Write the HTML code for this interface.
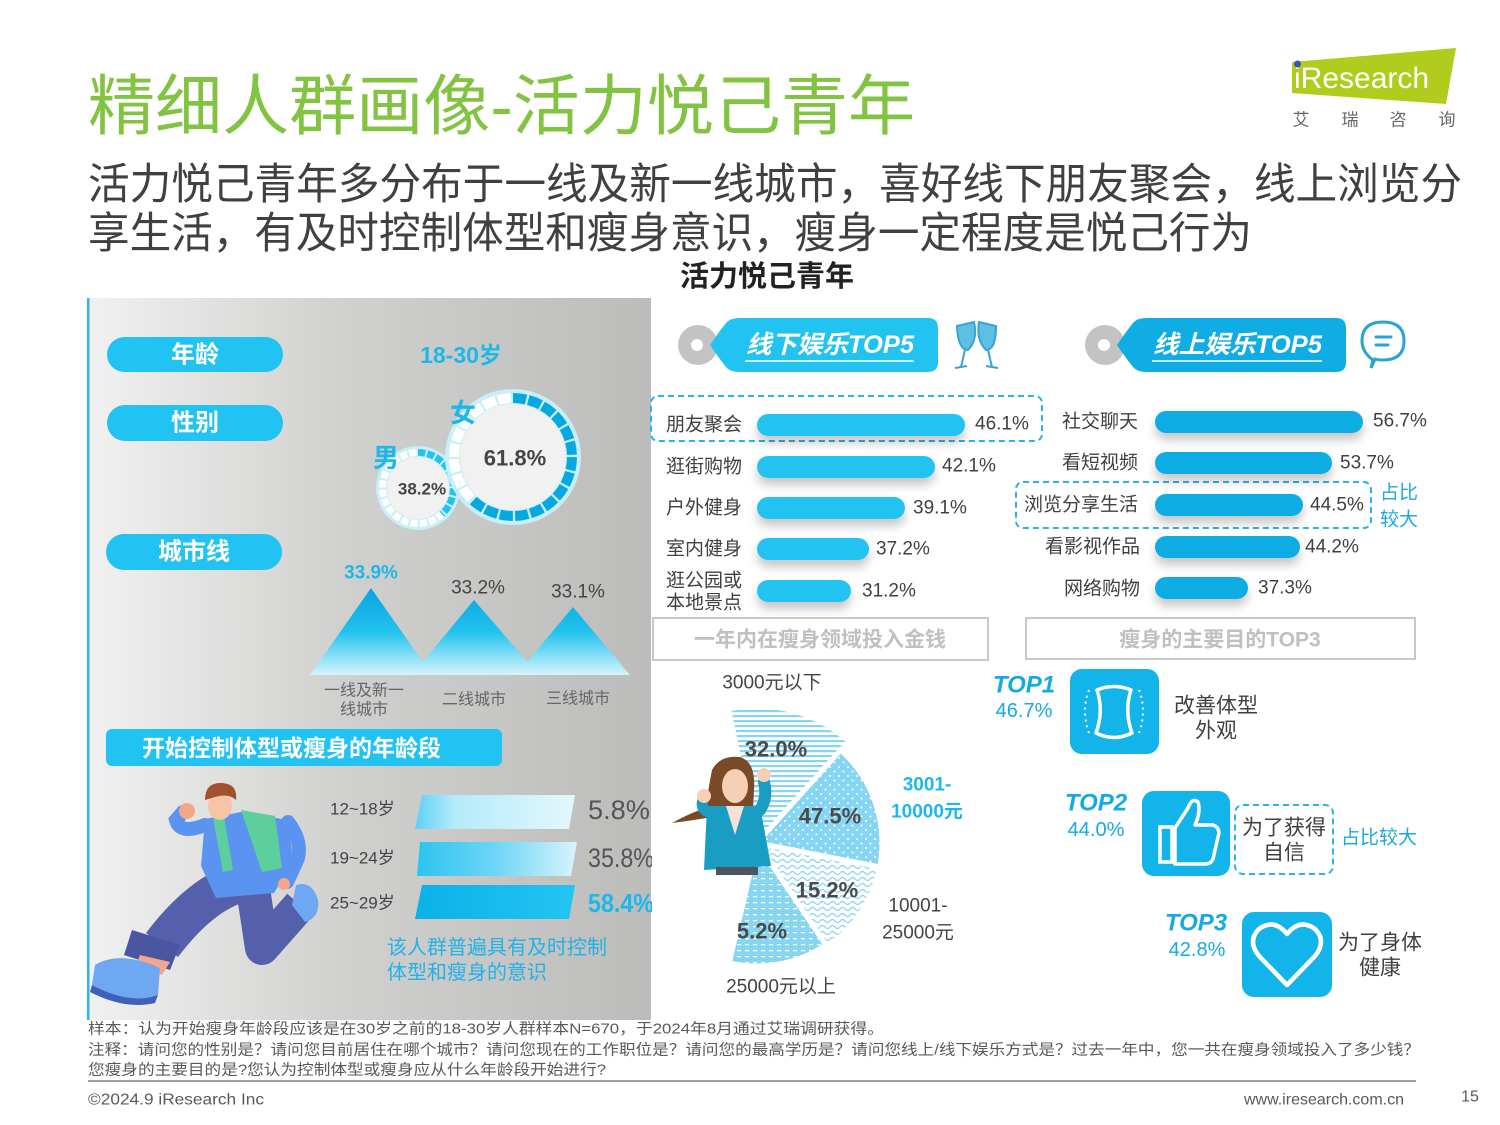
<!DOCTYPE html>
<html><head><meta charset="utf-8">
<style>
html,body{margin:0;padding:0;background:#fff;width:1500px;height:1125px;overflow:hidden;}
svg{display:block;}
text{font-family:"Liberation Sans","Noto Sans CJK SC",sans-serif;}
</style></head><body>
<svg width="1500" height="1125" viewBox="0 0 1500 1125" xmlns="http://www.w3.org/2000/svg">
<defs>
 <linearGradient id="panel" x1="0" x2="1" y1="0" y2="0">
  <stop offset="0" stop-color="#f1f1f1"/><stop offset="0.45" stop-color="#d0d0ce"/><stop offset="1" stop-color="#bcbcba"/>
 </linearGradient>
 <linearGradient id="mtn" gradientUnits="userSpaceOnUse" x1="0" y1="588" x2="0" y2="675">
  <stop offset="0" stop-color="#08a4de"/><stop offset="0.5" stop-color="#22c2ef"/><stop offset="1" stop-color="#d6f3fc"/>
 </linearGradient>
 <linearGradient id="ab1" x1="0" x2="1" y1="0" y2="0">
  <stop offset="0" stop-color="#5fd0f5"/><stop offset="0.25" stop-color="#b4ebfa"/><stop offset="1" stop-color="#e4f7fd"/>
 </linearGradient>
 <linearGradient id="ab2" x1="0" x2="1" y1="0" y2="0">
  <stop offset="0" stop-color="#2cc4f0"/><stop offset="0.5" stop-color="#6fd6f6"/><stop offset="1" stop-color="#d8f4fc"/>
 </linearGradient>
 <linearGradient id="ab3" x1="0" x2="1" y1="0" y2="0">
  <stop offset="0" stop-color="#0bb2e8"/><stop offset="1" stop-color="#23c4f1"/>
 </linearGradient>
 <filter id="sh" x="-10%" y="-50%" width="120%" height="250%">
  <feDropShadow dx="0" dy="7" stdDeviation="5" flood-color="#000" flood-opacity="0.22"/>
 </filter>
 <pattern id="pA" width="6" height="5" patternUnits="userSpaceOnUse">
  <rect width="6" height="5" fill="#ffffff"/><rect y="0" width="6" height="2.2" fill="#86d5f1"/>
 </pattern>
 <pattern id="pB" width="9" height="9" patternUnits="userSpaceOnUse">
  <rect width="9" height="9" fill="#86d5f2"/><circle cx="2" cy="2" r="1" fill="#fff"/><circle cx="6.5" cy="6.5" r="1" fill="#fff"/>
 </pattern>
 <pattern id="pC" width="10" height="6" patternUnits="userSpaceOnUse">
  <rect width="10" height="6" fill="#fff"/><path d="M0,3 Q2.5,0 5,3 T10,3" fill="none" stroke="#86d5f2" stroke-width="1.3"/>
 </pattern>
 <pattern id="pD" width="8" height="6" patternUnits="userSpaceOnUse">
  <rect width="8" height="6" fill="#86d5f2"/><rect x="1" y="2" width="4" height="1.3" fill="#fff"/>
 </pattern>
 <clipPath id="cBig"><path d="M513,457 L513,377 A80,80 0 1 1 459,516 Z"/></clipPath>
 <clipPath id="cSmall"><path d="M418,488 L418,428 A60,60 0 0 1 458.5,532.2 Z"/></clipPath>
 <clipPath id="cPanel"><rect x="88" y="298" width="564" height="722"/></clipPath>
</defs>

<!-- Title -->
<text x="88" y="106" font-size="66" fill="#82c341" dominant-baseline="central" textLength="827" lengthAdjust="spacingAndGlyphs">精细人群画像-活力悦己青年</text>
<text x="88" y="185" font-size="43" fill="#404040" dominant-baseline="central" textLength="1374" lengthAdjust="spacingAndGlyphs">活力悦己青年多分布于一线及新一线城市，喜好线下朋友聚会，线上浏览分</text>
<text x="88" y="234" font-size="43" fill="#404040" dominant-baseline="central" textLength="1164" lengthAdjust="spacingAndGlyphs">享生活，有及时控制体型和瘦身意识，瘦身一定程度是悦己行为</text>
<text x="767" y="277" font-size="29" font-weight="bold" fill="#222" text-anchor="middle" dominant-baseline="central">活力悦己青年</text>

<!-- Logo -->
<polygon points="1292,62 1456,48 1446,104 1292,93" fill="#b2cc1e"/>
<text x="1294" y="88" font-size="30" fill="#fff">iResearch</text>
<circle cx="1297.5" cy="64" r="3.5" fill="#2a5ea8"/>
<text x="1301" y="120" font-size="17" fill="#666" text-anchor="middle" dominant-baseline="central">艾</text>
<text x="1350" y="120" font-size="17" fill="#666" text-anchor="middle" dominant-baseline="central">瑞</text>
<text x="1398" y="120" font-size="17" fill="#666" text-anchor="middle" dominant-baseline="central">咨</text>
<text x="1447" y="120" font-size="17" fill="#666" text-anchor="middle" dominant-baseline="central">询</text>

<!-- Left panel -->
<rect x="88" y="298" width="563" height="722" fill="url(#panel)"/>
<rect x="87" y="298" width="2.5" height="722" fill="#2ab7ea"/>

<rect x="107" y="337" width="176" height="35" rx="17.5" fill="#20c3f1"/>
<text x="195" y="355" font-size="24" font-weight="bold" fill="#fff" text-anchor="middle" dominant-baseline="central">年龄</text>
<rect x="107" y="405" width="176" height="36" rx="18" fill="#20c3f1"/>
<text x="195" y="423" font-size="24" font-weight="bold" fill="#fff" text-anchor="middle" dominant-baseline="central">性别</text>
<rect x="106" y="534" width="176" height="36" rx="18" fill="#20c3f1"/>
<text x="194" y="552" font-size="24" font-weight="bold" fill="#fff" text-anchor="middle" dominant-baseline="central">城市线</text>

<text x="461" y="355" font-size="23" font-weight="bold" fill="#1db8ea" text-anchor="middle" dominant-baseline="central">18-30岁</text>

<!-- gender small -->
<circle cx="418" cy="488" r="42" fill="#c8eefa"/>
<circle cx="418" cy="488" r="35.5" fill="none" stroke="#fff" stroke-width="7" stroke-dasharray="7.3 2" transform="rotate(-90 418 488)"/>
<g clip-path="url(#cSmall)"><circle cx="418" cy="488" r="35.5" fill="none" stroke="#22c3f0" stroke-width="7" stroke-dasharray="7.3 2" transform="rotate(-90 418 488)"/></g>
<circle cx="418" cy="488" r="31" fill="#f1f1f1"/>
<text x="422" y="489" font-size="17" font-weight="bold" fill="#444" text-anchor="middle" dominant-baseline="central">38.2%</text>
<!-- gender big -->
<circle cx="513" cy="457" r="68" fill="#c8eefa"/>
<circle cx="513" cy="457" r="59" fill="none" stroke="#fff" stroke-width="10" stroke-dasharray="13.2 2.25" transform="rotate(-90 513 457)"/>
<g clip-path="url(#cBig)"><circle cx="513" cy="457" r="59" fill="none" stroke="#06a8e0" stroke-width="10" stroke-dasharray="13.2 2.25" transform="rotate(-90 513 457)"/></g>
<circle cx="513" cy="457" r="53" fill="#f1f1f1"/>
<text x="515" y="458" font-size="22" font-weight="bold" fill="#444" text-anchor="middle" dominant-baseline="central">61.8%</text>
<text x="463" y="413" font-size="26" font-weight="bold" fill="#1db8ea" text-anchor="middle" dominant-baseline="central">女</text>
<text x="386" y="458" font-size="26" font-weight="bold" fill="#1db8ea" text-anchor="middle" dominant-baseline="central">男</text>

<!-- mountains -->
<polygon points="516,675 573,607 630,675" fill="url(#mtn)"/>
<polygon points="412,675 474,600 539,675" fill="url(#mtn)"/>
<polygon points="310,675 371,588 432,675" fill="url(#mtn)"/>
<text x="371" y="573" font-size="19" font-weight="bold" fill="#1db8ea" text-anchor="middle" dominant-baseline="central">33.9%</text>
<text x="478" y="588" font-size="19" fill="#444" text-anchor="middle" dominant-baseline="central">33.2%</text>
<text x="578" y="592" font-size="19" fill="#444" text-anchor="middle" dominant-baseline="central">33.1%</text>
<text x="364" y="691" font-size="16" fill="#666" text-anchor="middle" dominant-baseline="central">一线及新一</text>
<text x="364" y="710" font-size="16" fill="#666" text-anchor="middle" dominant-baseline="central">线城市</text>
<text x="474" y="700" font-size="16" fill="#666" text-anchor="middle" dominant-baseline="central">二线城市</text>
<text x="578" y="699" font-size="16" fill="#666" text-anchor="middle" dominant-baseline="central">三线城市</text>

<!-- age section -->
<rect x="106" y="729" width="396" height="37" rx="6" fill="#20c3f1"/>
<text x="142" y="748" font-size="23" font-weight="bold" fill="#fff" dominant-baseline="central">开始控制体型或瘦身的年龄段</text>

<polygon points="422,795 575,795 569,829 415,829" fill="url(#ab1)"/>
<polygon points="420,842 577,842 571,876 417,876" fill="url(#ab2)"/>
<polygon points="422,885 575,885 569,919 415,919" fill="url(#ab3)"/>
<text x="330" y="809" font-size="17" fill="#444" dominant-baseline="central">12~18岁</text>
<text x="330" y="858" font-size="17" fill="#444" dominant-baseline="central">19~24岁</text>
<text x="330" y="903" font-size="17" fill="#444" dominant-baseline="central">25~29岁</text>
<g clip-path="url(#cPanel)">
 <text x="588" y="810" font-size="27" fill="#555" dominant-baseline="central" textLength="62" lengthAdjust="spacingAndGlyphs">5.8%</text>
 <text x="588" y="858" font-size="27" fill="#555" dominant-baseline="central" textLength="66" lengthAdjust="spacingAndGlyphs">35.8%</text>
 <text x="588" y="903" font-size="26" font-weight="bold" fill="#1db8ea" dominant-baseline="central" textLength="66" lengthAdjust="spacingAndGlyphs">58.4%</text>
</g>
<text x="387" y="948" font-size="20" fill="#22b2e8" dominant-baseline="central">该人群普遍具有及时控制</text>
<text x="387" y="973" font-size="20" fill="#22b2e8" dominant-baseline="central">体型和瘦身的意识</text>

<!-- running man -->
<g>
 <path d="M250,880 Q205,888 162,945" fill="none" stroke="#5560ad" stroke-width="40"/>
 <polygon points="132,930 180,945 170,970 124,955" fill="#4b56a3"/>
 <polygon points="140,955 170,962 162,975 135,968" fill="#f4a68a"/>
 <path d="M95,965 Q120,950 160,968 L158,995 Q130,1005 92,985 Z" fill="#6ea8f2"/>
 <path d="M92,985 Q130,1005 158,995 L155,1003 Q125,1010 90,992 Z" fill="#3f62b8"/>
 <path d="M252,882 L262,948 L300,905" fill="none" stroke="#5560ad" stroke-width="34" stroke-linejoin="round"/>
 <path d="M296,885 Q312,880 318,900 Q320,918 305,922 L292,905 Z" fill="#6ea8f2"/>
 <path d="M205,819 L241,812 L288,820 L293,862 L274,893 L216,898 L201,866 Z" fill="#5a93f0"/>
 <path d="M241,810 L275,816 L282,868 L262,872 Z" fill="#5ccf9c"/>
 <path d="M213,818 L224,816 L233,870 L223,872 Z" fill="#5ccf9c"/>
 <path d="M288,822 Q302,840 298,858 Q292,872 287,882" fill="none" stroke="#5a93f0" stroke-width="14" stroke-linecap="round"/>
 <circle cx="284" cy="884" r="6" fill="#f4a68a"/>
 <path d="M205,825 Q180,835 176,820 L183,812" fill="none" stroke="#5a93f0" stroke-width="14" stroke-linecap="round"/>
 <circle cx="187" cy="811" r="8" fill="#f4a68a"/>
 <ellipse cx="220" cy="806" rx="12" ry="14" fill="#f7c4a6"/>
 <path d="M205,800 Q205,782 222,783 Q238,784 236,800 Q228,793 215,797 Z" fill="#a0512d"/>
</g>

<!-- Offline TOP5 -->
<circle cx="698" cy="345" r="20" fill="#c3c3c3"/><circle cx="697" cy="345" r="6" fill="#fff"/>
<path d="M710,345 Q718,333 726,323 Q730,318 740,318 L928,318 Q938,318 938,328 L938,362 Q938,372 928,372 L740,372 Q730,372 726,367 Q718,357 710,345 Z" fill="#22c3f0"/>
<text x="746" y="345" font-size="25" font-weight="bold" font-style="italic" fill="#fff" dominant-baseline="central" textLength="168" lengthAdjust="spacingAndGlyphs">线下娱乐TOP5</text>
<line x1="745" y1="361" x2="914" y2="361" stroke="#fff" stroke-width="1.5"/>
<g fill="#5dbfe3" stroke="#3aa3cf" stroke-width="2">
 <path d="M957,326 L974,322 Q978,340 968,350 Q958,350 957,326 Z"/>
 <path d="M979,322 L996,326 Q996,350 986,350 Q976,340 979,322 Z"/>
 <path d="M965,350 L961,367 M955,368 L967,366 M988,350 L992,367 M986,366 L998,368" fill="none"/>
</g>
<rect x="651" y="396" width="391" height="45" rx="7" fill="none" stroke="#2ab3e6" stroke-width="2" stroke-dasharray="6 4"/>
<g filter="url(#sh)" fill="#22c3f0">
 <rect x="757" y="414" width="208" height="22" rx="11"/>
 <rect x="757" y="456" width="178" height="22" rx="11"/>
 <rect x="757" y="497" width="148" height="22" rx="11"/>
 <rect x="757" y="538" width="112" height="22" rx="11"/>
 <rect x="757" y="580" width="94" height="22" rx="11"/>
</g>
<g font-size="19" fill="#404040">
 <text x="666" y="425" dominant-baseline="central">朋友聚会</text>
 <text x="666" y="467" dominant-baseline="central">逛街购物</text>
 <text x="666" y="508" dominant-baseline="central">户外健身</text>
 <text x="666" y="549" dominant-baseline="central">室内健身</text>
 <text x="666" y="581" dominant-baseline="central">逛公园或</text>
 <text x="666" y="603" dominant-baseline="central">本地景点</text>
 <text x="975" y="424" dominant-baseline="central">46.1%</text>
 <text x="942" y="466" dominant-baseline="central">42.1%</text>
 <text x="913" y="508" dominant-baseline="central">39.1%</text>
 <text x="876" y="549" dominant-baseline="central">37.2%</text>
 <text x="862" y="591" dominant-baseline="central">31.2%</text>
</g>

<!-- Online TOP5 -->
<circle cx="1105" cy="345" r="20" fill="#c3c3c3"/><circle cx="1104" cy="345" r="6" fill="#fff"/>
<path d="M1117,345 Q1125,333 1133,323 Q1137,318 1147,318 L1336,318 Q1346,318 1346,328 L1346,362 Q1346,372 1336,372 L1147,372 Q1137,372 1133,367 Q1125,357 1117,345 Z" fill="#0fade3"/>
<text x="1153" y="345" font-size="25" font-weight="bold" font-style="italic" fill="#fff" dominant-baseline="central" textLength="169" lengthAdjust="spacingAndGlyphs">线上娱乐TOP5</text>
<line x1="1152" y1="361" x2="1322" y2="361" stroke="#fff" stroke-width="1.5"/>
<path d="M1373,360 Q1362,352 1362,341 Q1362,322 1383,322 Q1404,322 1404,341 Q1404,360 1383,360 Q1378,360 1375,359 L1371,368 Z" fill="none" stroke="#2aa4d2" stroke-width="3"/>
<line x1="1376" y1="337" x2="1391" y2="337" stroke="#2aa4d2" stroke-width="3" stroke-linecap="round"/>
<line x1="1376" y1="345" x2="1388" y2="345" stroke="#2aa4d2" stroke-width="3" stroke-linecap="round"/>
<rect x="1016" y="482" width="355" height="46" rx="7" fill="none" stroke="#2ab3e6" stroke-width="2" stroke-dasharray="6 4"/>
<g filter="url(#sh)" fill="#0fade3">
 <rect x="1155" y="411" width="208" height="22" rx="11"/>
 <rect x="1155" y="452" width="177" height="22" rx="11"/>
 <rect x="1155" y="494" width="148" height="22" rx="11"/>
 <rect x="1155" y="536" width="145" height="22" rx="11"/>
 <rect x="1155" y="577" width="93" height="22" rx="11"/>
</g>
<g font-size="19" fill="#404040">
 <text x="1138" y="422" text-anchor="end" dominant-baseline="central">社交聊天</text>
 <text x="1138" y="463" text-anchor="end" dominant-baseline="central">看短视频</text>
 <text x="1138" y="505" text-anchor="end" dominant-baseline="central">浏览分享生活</text>
 <text x="1140" y="547" text-anchor="end" dominant-baseline="central">看影视作品</text>
 <text x="1140" y="589" text-anchor="end" dominant-baseline="central">网络购物</text>
 <text x="1373" y="421" dominant-baseline="central">56.7%</text>
 <text x="1340" y="463" dominant-baseline="central">53.7%</text>
 <text x="1310" y="505" dominant-baseline="central">44.5%</text>
 <text x="1305" y="547" dominant-baseline="central">44.2%</text>
 <text x="1258" y="588" dominant-baseline="central">37.3%</text>
</g>
<text x="1380" y="493" font-size="19" fill="#1aa8e2" dominant-baseline="central">占比</text>
<text x="1380" y="520" font-size="19" fill="#1aa8e2" dominant-baseline="central">较大</text>

<!-- Section boxes -->
<rect x="653" y="618" width="335" height="42" fill="none" stroke="#c8c8c8" stroke-width="2"/>
<text x="820" y="640" font-size="21" font-weight="bold" fill="#c0c0c0" text-anchor="middle" dominant-baseline="central">一年内在瘦身领域投入金钱</text>
<rect x="1026" y="618" width="389" height="41" fill="none" stroke="#c8c8c8" stroke-width="2"/>
<text x="1220" y="640" font-size="21" font-weight="bold" fill="#c0c0c0" text-anchor="middle" dominant-baseline="central">瘦身的主要目的TOP3</text>

<!-- Pie -->
<g stroke="#fff" stroke-width="5" stroke-linejoin="round">
 <path d="M757,843 L728.5,709 A137,137 0 0 1 848.7,741.2 Z" fill="url(#pA)"/>
 <path d="M757,843 L840.6,750.1 A125,125 0 0 1 879.7,866.9 Z" fill="url(#pB)"/>
 <path d="M757,843 L879.7,866.9 A125,125 0 0 1 826.9,946.6 Z" fill="url(#pC)"/>
 <path d="M757,843 L825.8,945 A123,123 0 0 1 729.3,962.9 Z" fill="url(#pD)"/>
</g>
<!-- woman -->
<g>
 <path d="M712,770 Q720,755 740,757 Q756,762 754,790 L752,830 L735,812 Q712,818 672,823 Q692,812 706,808 Q708,790 712,770 Z" fill="#7a4a28"/>
 <ellipse cx="735" cy="786" rx="13" ry="17" fill="#f6cfb4"/>
 <path d="M722,778 Q730,760 750,772 Q748,762 738,759 Q722,758 722,778 Z" fill="#7a4a28"/>
 <polygon points="707,806 760,806 771,866 704,870" fill="#1a9dc3"/>
 <polygon points="726,806 744,806 735,835" fill="#f3e1d7"/>
 <path d="M760,810 Q768,798 764,782" fill="none" stroke="#1a9dc3" stroke-width="12" stroke-linecap="round"/>
 <circle cx="764" cy="775" r="7" fill="#f6cfb4"/>
 <path d="M708,812 Q700,808 703,800" fill="none" stroke="#1a9dc3" stroke-width="11" stroke-linecap="round"/>
 <circle cx="704" cy="796" r="7" fill="#f6cfb4"/>
 <rect x="716" y="867" width="42" height="8" fill="#4d5560"/>
</g>
<g font-size="22" font-weight="bold" fill="#4a4a4a" text-anchor="middle" dominant-baseline="central">
 <text x="776" y="749">32.0%</text>
 <text x="830" y="816">47.5%</text>
 <text x="827" y="890">15.2%</text>
 <text x="762" y="931">5.2%</text>
</g>
<g font-size="19" fill="#444" dominant-baseline="central">
 <text x="772" y="683" text-anchor="middle">3000元以下</text>
 <text x="918" y="906" text-anchor="middle">10001-</text>
 <text x="918" y="933" text-anchor="middle">25000元</text>
 <text x="781" y="987" text-anchor="middle">25000元以上</text>
</g>
<text x="927" y="785" font-size="19" font-weight="bold" fill="#1db8ea" text-anchor="middle" dominant-baseline="central">3001-</text>
<text x="927" y="812" font-size="19" font-weight="bold" fill="#1db8ea" text-anchor="middle" dominant-baseline="central">10000元</text>

<!-- Top3 -->
<g font-weight="bold" font-style="italic" font-size="24" fill="#14aae3" text-anchor="middle" dominant-baseline="central">
 <text x="1024" y="685">TOP1</text>
 <text x="1096" y="803">TOP2</text>
 <text x="1196" y="923">TOP3</text>
</g>
<g font-size="20" fill="#14aae3" text-anchor="middle" dominant-baseline="central">
 <text x="1024" y="711">46.7%</text>
 <text x="1096" y="830">44.0%</text>
 <text x="1197" y="950">42.8%</text>
</g>
<rect x="1070" y="669" width="89" height="85" rx="12" fill="#12b4ea"/>
<path d="M1097,690 Q1114,683 1131,690 Q1124,711 1132,733 Q1114,742 1096,733 Q1104,711 1097,690 Z" fill="none" stroke="#fff" stroke-width="3.5" stroke-linejoin="round"/>
<path d="M1089,690 Q1081,711 1089,733 M1139,690 Q1147,711 1139,733" fill="none" stroke="#fff" stroke-width="2" stroke-dasharray="2 4"/>
<rect x="1142" y="791" width="88" height="85" rx="12" fill="#12b4ea"/>
<rect x="1160" y="827" width="12" height="35" fill="none" stroke="#fff" stroke-width="3.5"/>
<path d="M1175,828 L1188,808 Q1192,797 1198,802 Q1201,812 1195,825 L1213,825 Q1221,828 1218,837 L1213,859 Q1211,864 1205,864 L1175,864 Z" fill="none" stroke="#fff" stroke-width="3.5" stroke-linejoin="round"/>
<rect x="1242" y="912" width="90" height="85" rx="12" fill="#12b4ea"/>
<path d="M1287,985 L1259,956 Q1247,941 1259,929 Q1274,918 1287,934 Q1300,918 1315,929 Q1327,941 1315,956 Z" fill="none" stroke="#fff" stroke-width="4.5" stroke-linejoin="round"/>
<rect x="1235" y="805" width="98" height="69" rx="8" fill="none" stroke="#2ab3e6" stroke-width="2" stroke-dasharray="6 4"/>
<g font-size="21" fill="#404040" text-anchor="middle" dominant-baseline="central">
 <text x="1216" y="706">改善体型</text>
 <text x="1216" y="731">外观</text>
 <text x="1284" y="828">为了获得</text>
 <text x="1284" y="853">自信</text>
 <text x="1380" y="943">为了身体</text>
 <text x="1380" y="968">健康</text>
</g>
<text x="1379" y="838" font-size="19" fill="#1aa8e2" text-anchor="middle" dominant-baseline="central">占比较大</text>

<!-- Footer -->
<g font-size="15" fill="#595959" dominant-baseline="central">
 <text x="88" y="1029" textLength="796" lengthAdjust="spacingAndGlyphs">样本：认为开始瘦身年龄段应该是在30岁之前的18-30岁人群样本N=670，于2024年8月通过艾瑞调研获得。</text>
 <text x="88" y="1050" textLength="1332" lengthAdjust="spacingAndGlyphs">注释：请问您的性别是？请问您目前居住在哪个城市？请问您现在的工作职位是？请问您的最高学历是？请问您线上/线下娱乐方式是？过去一年中，您一共在瘦身领域投入了多少钱？</text>
 <text x="88" y="1070" textLength="518" lengthAdjust="spacingAndGlyphs">您瘦身的主要目的是?您认为控制体型或瘦身应从什么年龄段开始进行?</text>
</g>
<line x1="88" y1="1081" x2="1416" y2="1081" stroke="#a0a0a0" stroke-width="2"/>
<text x="88" y="1100" font-size="16" fill="#595959" dominant-baseline="central" textLength="176" lengthAdjust="spacingAndGlyphs">©2024.9 iResearch Inc</text>
<text x="1404" y="1100" font-size="16" fill="#595959" text-anchor="end" dominant-baseline="central">www.iresearch.com.cn</text>
<text x="1470" y="1097" font-size="16" fill="#595959" text-anchor="middle" dominant-baseline="central">15</text>
</svg>
</body></html>
